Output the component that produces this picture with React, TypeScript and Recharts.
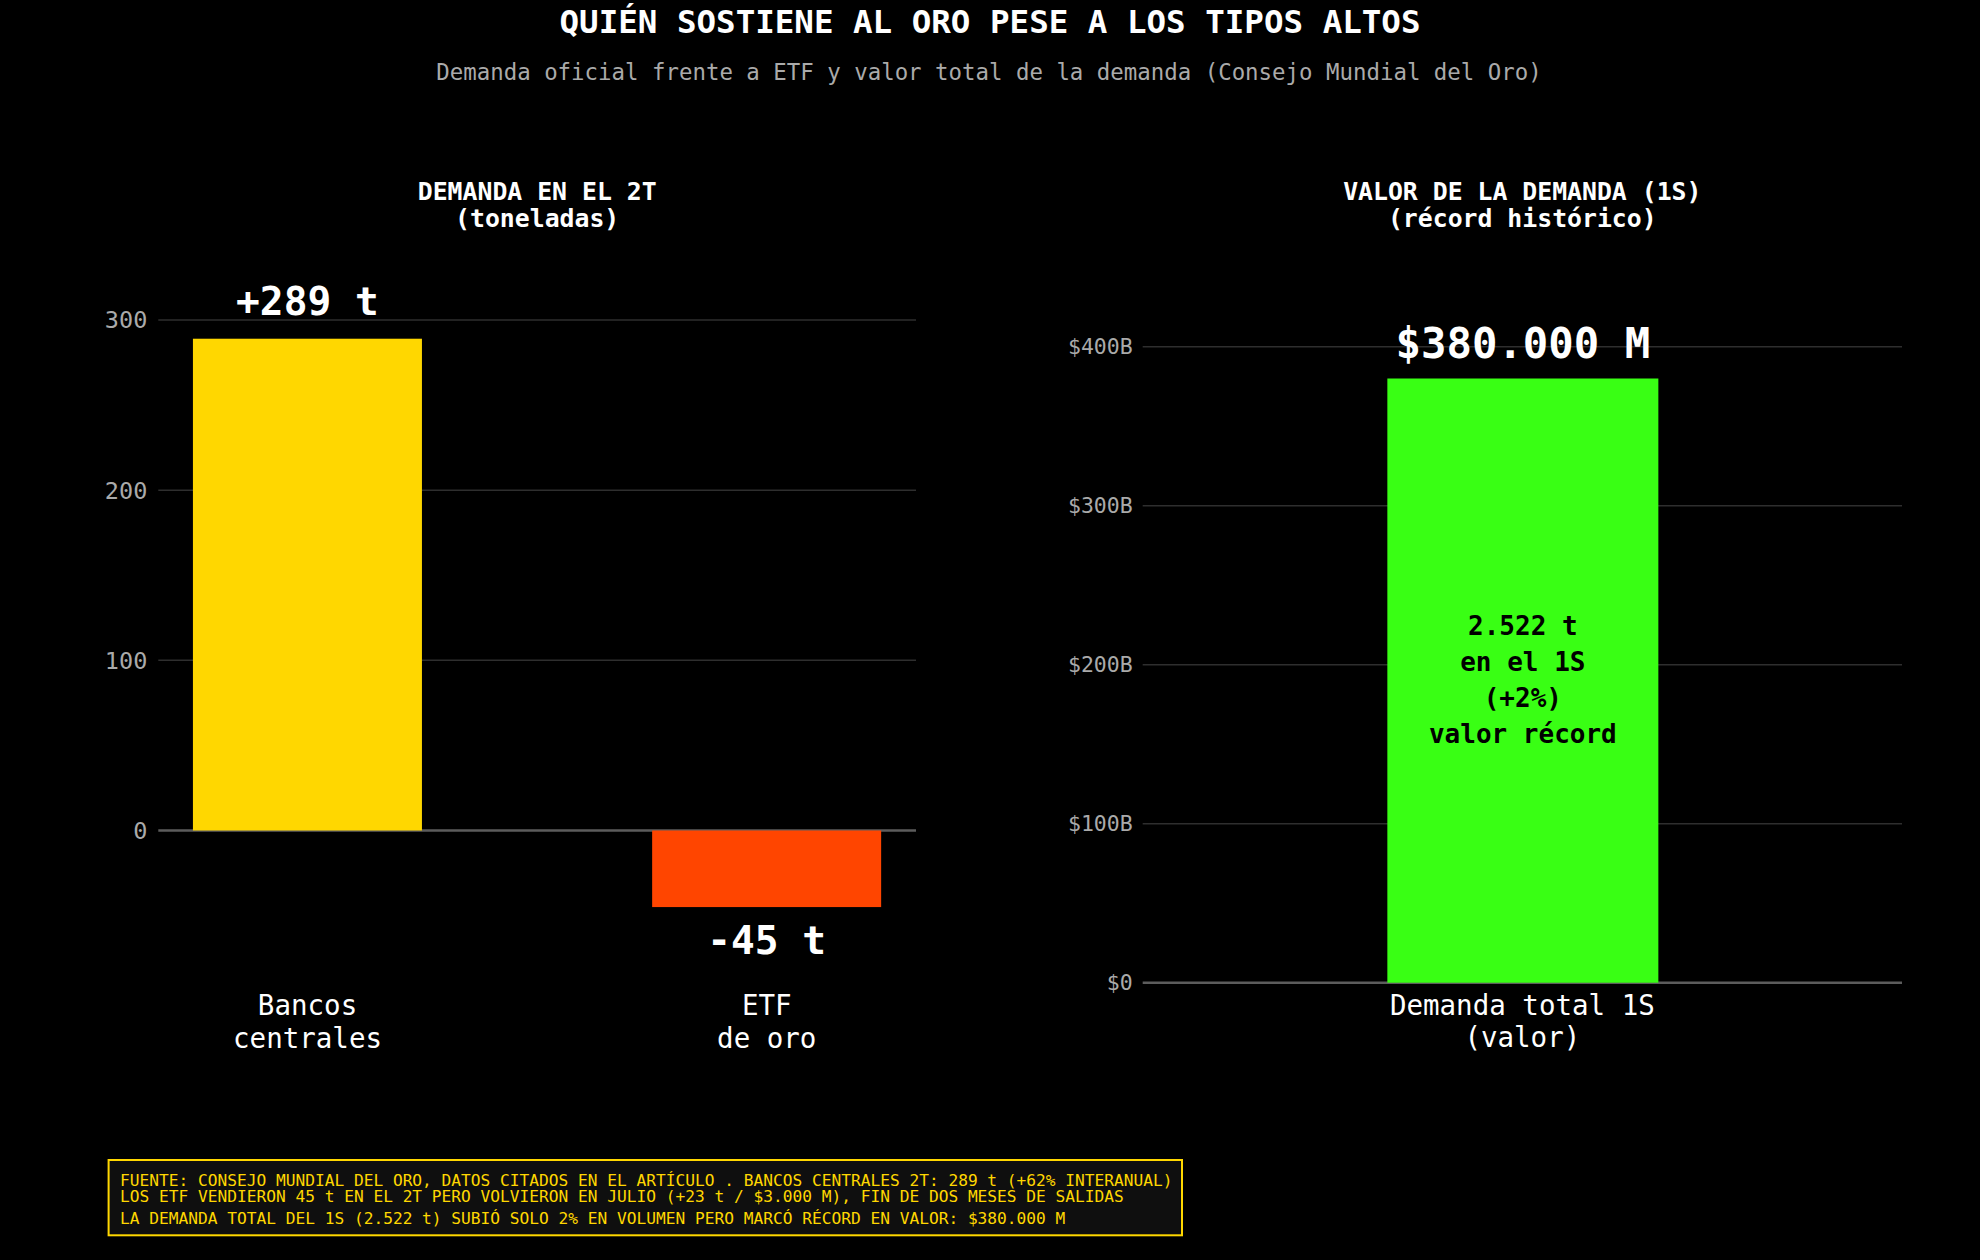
import React from 'react';
import { BarChart, Bar, XAxis, YAxis, CartesianGrid } from 'recharts';

const FONT = '"DejaVu Sans Mono", "Liberation Mono", monospace';

const TITLE = 'QUIÉN SOSTIENE AL ORO PESE A LOS TIPOS ALTOS';
const SUBTITLE = 'Demanda oficial frente a ETF y valor total de la demanda (Consejo Mundial del Oro)';

const LEFT_TITLE = ['DEMANDA EN EL 2T', '(toneladas)'];
const LEFT_CATEGORIES = [['Bancos', 'centrales'], ['ETF', 'de oro']];
const LEFT_VALUES = [289, -45];
const LEFT_VALUE_LABELS = ['+289 t', '-45 t'];
const LEFT_COLORS = ['#FFD700', '#FF4500'];
const LEFT_Y_TICKS = [0, 100, 200, 300];
const LEFT_Y_DOMAIN = [-90, 332];

const RIGHT_TITLE = ['VALOR DE LA DEMANDA (1S)', '(récord histórico)'];
const RIGHT_CATEGORIES = [['Demanda total 1S', '(valor)']];
const RIGHT_VALUES = [380];
const RIGHT_VALUE_LABELS = ['$380.000 M'];
const RIGHT_INNER_LINES = ['2.522 t', 'en el 1S', '(+2%)', 'valor récord'];
const RIGHT_COLORS = ['#39FF14'];
const RIGHT_Y_TICKS = [0, 100, 200, 300, 400];
const RIGHT_Y_DOMAIN = [0, 450];

const FOOTER_LINES = [
  'FUENTE: CONSEJO MUNDIAL DEL ORO, DATOS CITADOS EN EL ARTÍCULO . BANCOS CENTRALES 2T: 289 t (+62% INTERANUAL)',
  'LOS ETF VENDIERON 45 t EN EL 2T PERO VOLVIERON EN JULIO (+23 t / $3.000 M), FIN DE DOS MESES DE SALIDAS',
  'LA DEMANDA TOTAL DEL 1S (2.522 t) SUBIÓ SOLO 2% EN VOLUMEN PERO MARCÓ RÉCORD EN VALOR: $380.000 M',
];

const leftData = LEFT_VALUES.map((v, i) => ({ pos: i, value: v }));
const rightData = RIGHT_VALUES.map((v, i) => ({ pos: i, value: v }));

const GRID = '#2e2e2e';
const ZERO = '#5c5c5c';
const TICK_GRAY = '#aaaaaa';

const gridGen = (ticks: number[], domain: number[]) => (props: any) => {
  const scale = props?.yAxis?.scale;
  if (typeof scale === 'function') {
    const out = ticks.map((t) => scale(t));
    if (out.every((v) => Number.isFinite(v))) return out;
  }
  if (scale && typeof scale.map === 'function') {
    const out = ticks.map((t) => scale.map(t));
    if (out.every((v: any) => Number.isFinite(v))) return out;
  }
  const off = props?.offset || {};
  const top = off.top ?? 0;
  const h = off.height ?? 0;
  const [lo, hi] = domain;
  return ticks.map((t) => top + ((hi - t) / (hi - lo)) * h);
};

const makeTick = (cats: string[][]) => (props: any) => {
  const { x, y, payload } = props;
  const v = payload?.value;
  if (!Number.isInteger(v) || !cats[v]) return <g />;
  return (
    <g>
      {cats[v].map((line, i) => (
        <text
          key={i}
          x={x}
          y={y + 23.8 + i * 32.5}
          textAnchor="middle"
          fill="#ffffff"
          fontSize={27.5}
          fontFamily={FONT}
        >
          {line}
        </text>
      ))}
    </g>
  );
};

const LeftShape = (props: any) => {
  const { x, y, width, height, index } = props;
  const top = Math.min(y, y + height);
  const h = Math.abs(height);
  const v = LEFT_VALUES[index];
  const cx = x + width / 2;
  const labelY = v >= 0 ? top - 24 : top + h + 47;
  return (
    <g>
      <rect x={x} y={top} width={width} height={h} fill={LEFT_COLORS[index]} />
      <text x={cx} y={labelY} textAnchor="middle" fill="#ffffff" fontSize={39.5} fontWeight="bold" fontFamily={FONT}>
        {LEFT_VALUE_LABELS[index]}
      </text>
    </g>
  );
};

const RightShape = (props: any) => {
  const { x, y, width, height, index } = props;
  const top = Math.min(y, y + height);
  const h = Math.abs(height);
  const cx = x + width / 2;
  const mid = top + h / 2;
  return (
    <g>
      <rect x={x} y={top} width={width} height={h} fill={RIGHT_COLORS[index]} />
      <text x={cx} y={top - 20.5} textAnchor="middle" fill="#ffffff" fontSize={42.3} fontWeight="bold" fontFamily={FONT}>
        {RIGHT_VALUE_LABELS[index]}
      </text>
      {RIGHT_INNER_LINES.map((line, i) => (
        <text
          key={i}
          x={cx}
          y={mid - 45.5 + i * 36}
          textAnchor="middle"
          fill="#000000"
          fontSize={26}
          fontWeight="bold"
          fontFamily={FONT}
        >
          {line}
        </text>
      ))}
    </g>
  );
};

export default function App() {
  return (
    <div
      style={{
        position: 'absolute',
        left: 0,
        top: 0,
        width: 1980,
        height: 1260,
        background: '#000000',
        overflow: 'hidden',
        fontFamily: FONT,
      }}
    >
      <div style={{ position: 'absolute', left: 0, top: 0 }}>
        <BarChart width={1000} height={1100} data={leftData} margin={{ top: 265.55, right: 84, bottom: 56.35, left: 0 }}>
          <CartesianGrid
            vertical={false}
            stroke={GRID}
            strokeWidth={1.5}
            horizontalCoordinatesGenerator={gridGen(LEFT_Y_TICKS.filter((t) => t !== 0), LEFT_Y_DOMAIN)}
          />
          <CartesianGrid
            vertical={false}
            stroke={ZERO}
            strokeWidth={2.4}
            horizontalCoordinatesGenerator={gridGen([0], LEFT_Y_DOMAIN)}
          />
          <XAxis
            dataKey="pos"
            type="number"
            domain={[-0.325, 1.325]}
            ticks={[0, 1]}
            interval={0}
            axisLine={false}
            tickLine={false}
            height={60}
            tick={makeTick(LEFT_CATEGORIES)}
          />
          <YAxis
            type="number"
            domain={LEFT_Y_DOMAIN}
            ticks={LEFT_Y_TICKS}
            interval={0}
            width={158.3}
            axisLine={false}
            tickLine={false}
            tickMargin={5}
            tick={{ fill: TICK_GRAY, fontSize: 23.5, fontFamily: FONT }}
          />
          <Bar dataKey="value" barSize={229} isAnimationActive={false} shape={LeftShape} />
        </BarChart>
      </div>
      <div style={{ position: 'absolute', left: 1000, top: 0 }}>
        <BarChart width={980} height={1100} data={rightData} margin={{ top: 267.2, right: 78, bottom: 57.3, left: 0 }}>
          <CartesianGrid
            vertical={false}
            stroke={GRID}
            strokeWidth={1.5}
            horizontalCoordinatesGenerator={gridGen(RIGHT_Y_TICKS.filter((t) => t !== 0), RIGHT_Y_DOMAIN)}
          />
          <CartesianGrid
            vertical={false}
            stroke={ZERO}
            strokeWidth={2.4}
            horizontalCoordinatesGenerator={gridGen([0], RIGHT_Y_DOMAIN)}
          />
          <XAxis
            dataKey="pos"
            type="number"
            domain={[-0.7, 0.7]}
            ticks={[-0.7, 0, 0.7]}
            interval={0}
            axisLine={false}
            tickLine={false}
            height={60}
            tick={makeTick(RIGHT_CATEGORIES)}
          />
          <YAxis
            type="number"
            domain={RIGHT_Y_DOMAIN}
            ticks={RIGHT_Y_TICKS}
            interval={0}
            width={142.7}
            axisLine={false}
            tickLine={false}
            tickMargin={4}
            tickFormatter={(v: number) => `$${v}${v === 0 ? '' : 'B'}`}
            tick={{ fill: TICK_GRAY, fontSize: 21.5, fontFamily: FONT }}
          />
          <Bar dataKey="value" barSize={271} isAnimationActive={false} shape={RightShape} />
        </BarChart>
      </div>
      <svg
        width={1980}
        height={1260}
        style={{ position: 'absolute', left: 0, top: 0, pointerEvents: 'none' }}
      >
        <text x={990} y={32.5} textAnchor="middle" fill="#ffffff" fontSize={32.5} fontWeight="bold" fontFamily={FONT}>
          {TITLE}
        </text>
        <text x={989} y={80} textAnchor="middle" fill={TICK_GRAY} fontSize={22.4} fontFamily={FONT}>
          {SUBTITLE}
        </text>
        {LEFT_TITLE.map((t, i) => (
          <text key={'l' + i} x={537.2} y={200.3 + i * 27} textAnchor="middle" fill="#ffffff" fontSize={24.8} fontWeight="bold" fontFamily={FONT}>
            {t}
          </text>
        ))}
        {RIGHT_TITLE.map((t, i) => (
          <text key={'r' + i} x={1522.3} y={200.3 + i * 27} textAnchor="middle" fill="#ffffff" fontSize={24.8} fontWeight="bold" fontFamily={FONT}>
            {t}
          </text>
        ))}
        <rect x={108.6} y={1160} width={1073.4} height={75.3} fill="#0f0f0f" stroke="#FFD700" strokeWidth={2} />
        {FOOTER_LINES.map((t, i) => (
          <text key={'f' + i} x={120} y={[1185.5, 1201.5, 1223.5][i]} fill="#FFD700" fontSize={16.2} fontFamily={FONT}>
            {t}
          </text>
        ))}
      </svg>
    </div>
  );
}
